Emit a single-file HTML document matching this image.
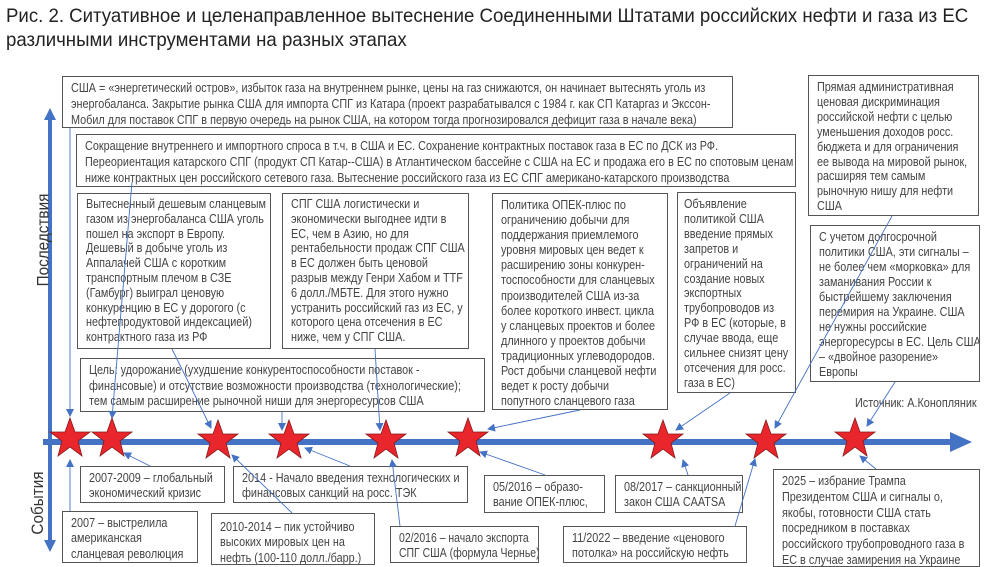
<!DOCTYPE html>
<html><head><meta charset="utf-8"><style>
body{margin:0;width:986px;height:567px;background:#fff;position:relative;overflow:hidden;font-family:"Liberation Sans",sans-serif;}
.t{position:absolute;left:6px;top:4px;font-size:19.5px;line-height:24px;color:#222;white-space:nowrap;transform:scaleX(0.955);transform-origin:left top}
.b{position:absolute;border:1.3px solid #555;background:#fff;box-sizing:border-box;font-size:12.6px;line-height:15.3px;color:#444;padding:4px 0 0 8px;white-space:nowrap;overflow:hidden}
.b>span{display:inline-block;transform:scaleX(0.86);transform-origin:left top}
.lab{position:absolute;font-size:17px;color:#333;transform:rotate(-90deg) scaleX(0.9);transform-origin:center;white-space:nowrap}
svg{position:absolute;left:0;top:0}
</style></head><body>
<div class="t">Рис. 2. Ситуативное и целенаправленное вытеснение Соединенными Штатами российских нефти и газа из ЕС<br>различными инструментами на разных этапах</div>
<svg width="986" height="567">
<defs><marker id="a" markerWidth="8" markerHeight="8" refX="7" refY="4" orient="auto" markerUnits="userSpaceOnUse"><path d="M0,0 L8,4 L0,8 z" fill="#4472c4"/></marker></defs>
<line x1="50" y1="118" x2="50" y2="542" stroke="#4472c4" stroke-width="4"/>
<path d="M44,120 L50,108 L56,120 z M44,540 L50,552 L56,540 z" fill="#4472c4"/>
<line x1="43" y1="442" x2="955" y2="442" stroke="#4472c4" stroke-width="6"/>
<path d="M950,432 L972,442 L950,452 z" fill="#4472c4"/>
</svg>
<div class="lab" style="left:-8px;top:230px">Последствия</div>
<div class="lab" style="left:3px;top:493px">События</div>
<div class="b" style="left:62px;top:76px;width:671px;height:52px;line-height:16px;padding-top:3px"><span>США = «энергетический остров», избыток газа на внутреннем рынке, цены на газ снижаются, он начинает вытеснять уголь из<br>энергобаланса. Закрытие рынка США для импорта СПГ из Катара (проект разрабатывался с 1984 г. как СП Катаргаз и Экссон-<br>Мобил для поставок СПГ в первую очередь на рынок США, на котором тогда прогнозировался дефицит газа в начале века)</span></div>
<div class="b" style="left:76px;top:134px;width:720px;height:53px;line-height:16px;padding-top:3px"><span>Сокращение внутреннего и импортного спроса в т.ч. в США и ЕС.  Сохранение контрактных поставок газа в ЕС по ДСК из РФ.<br>Переориентация катарского СПГ (продукт СП Катар--США) в Атлантическом бассейне с США на ЕС и продажа его в ЕС по спотовым ценам<br>ниже контрактных цен российского сетевого газа. Вытеснение российского газа из ЕС СПГ американо-катарского производства</span></div>
<div class="b" style="left:77px;top:193px;width:194px;height:156px;line-height:14.8px;padding-top:3px"><span>Вытесненный дешевым сланцевым<br>газом из энергобаланса США уголь<br>пошел на экспорт в Европу.<br>Дешевый в добыче уголь из<br>Аппалачей США с коротким<br>транспортным плечом  в СЗЕ<br>(Гамбург) выиграл ценовую<br>конкуренцию в ЕС у дорогого (с<br>нефтепродуктовой индексацией)<br>контрактного газа из РФ</span></div>
<div class="b" style="left:282px;top:193px;width:187px;height:156px;line-height:14.8px;padding-top:3px"><span>СПГ США логистически и<br>экономически выгоднее идти в<br>ЕС, чем в Азию, но для<br>рентабельности продаж СПГ США<br>в ЕС должен быть ценовой<br>разрыв между Генри Хабом и TTF<br>6 долл./МБТЕ. Для этого нужно<br>устранить российский газ из ЕС, у<br>которого цена отсечения в ЕС<br>ниже, чем у СПГ США.</span></div>
<div class="b" style="left:492px;top:193px;width:176px;height:217px;line-height:15.1px"><span>Политика ОПЕК-плюс по<br>ограничению добычи для<br>поддержания приемлемого<br>уровня мировых цен ведет к<br>расширению зоны конкурен-<br>тоспособности для сланцевых<br>производителей США из-за<br>более короткого инвест. цикла<br>у сланцевых проектов и более<br>длинного у проектов добычи<br>традиционных углеводородов.<br>Рост добычи сланцевой нефти<br>ведет к росту добычи<br>попутного сланцевого газа</span></div>
<div class="b" style="left:677px;top:192px;width:119px;height:201px;padding-left:6px;line-height:14.9px"><span>Объявление<br>политикой США<br>введение прямых<br>запретов и<br>ограничений на<br>создание новых<br>экспортных<br>трубопроводов из<br>РФ в ЕС (которые, в<br>случае ввода, еще<br>сильнее снизят цену<br>отсечения для росс.<br>газа в ЕС)</span></div>
<div class="b" style="left:808px;top:75px;width:171px;height:141px;line-height:14.9px"><span>Прямая административная<br>ценовая  дискриминация<br>российской нефти с целью<br>уменьшения доходов росс.<br>бюджета и для  ограничения<br>ее вывода на мировой рынок,<br>расширяя тем самым<br>рыночную нишу для нефти<br>США</span></div>
<div class="b" style="left:810px;top:225px;width:170px;height:157px;line-height:15px"><span>С учетом долгосрочной<br>политики США, эти сигналы –<br>не более чем «морковка» для<br>заманивания России к<br>быстрейшему заключения<br>перемирия на Украине. США<br>не нужны российские<br>энергоресурсы в ЕС. Цель США<br>– «двойное разорение»<br>Европы</span></div>
<div class="b" style="left:80px;top:358px;width:405px;height:54px;line-height:15.5px"><span>Цель: удорожание (ухудшение конкурентоспособности поставок -<br>финансовые) и отсутствие возможности производства (технологические);<br>тем самым расширение рыночной ниши для энергоресурсов США</span></div>
<div style="position:absolute;left:855px;top:396px;font-size:12.6px;color:#444;white-space:nowrap;transform:scaleX(0.86);transform-origin:left top">Источник: А.Конопляник</div>
<div class="b" style="left:80px;top:466px;width:145px;height:37px"><span>2007-2009 – глобальный<br>экономический кризис</span></div>
<div class="b" style="left:233px;top:466px;width:235px;height:37px"><span>2014 - Начало введения технологических и<br>финансовых санкций на росс. ТЭК</span></div>
<div class="b" style="left:62px;top:511px;width:136px;height:52px"><span>2007 – выстрелила<br>американская<br>сланцевая революция</span></div>
<div class="b" style="left:211px;top:513px;width:164px;height:52px;padding-top:6px"><span>2010-2014 – пик устойчиво<br>высоких мировых цен на<br>нефть (100-110 долл./барр.)</span></div>
<div class="b" style="left:390px;top:526px;width:149px;height:37px"><span style="transform:scaleX(0.83)">02/2016 – начало экспорта<br>СПГ США (формула Чернье)</span></div>
<div class="b" style="left:484px;top:475px;width:121px;height:38px"><span>05/2016 – образо-<br>вание  ОПЕК-плюс,</span></div>
<div class="b" style="left:615px;top:475px;width:128px;height:38px"><span>08/2017 – санкционный<br>закон США CAATSA</span></div>
<div class="b" style="left:563px;top:526px;width:184px;height:37px"><span>11/2022 – введение «ценового<br>потолка» на российскую нефть</span></div>
<div class="b" style="left:773px;top:469px;width:207px;height:98px;line-height:15.8px"><span>2025 – избрание Трампа<br>Президентом США и сигналы о,<br>якобы, готовности США стать<br>посредником в поставках<br>российского трубопроводного газа в<br>ЕС в случае замирения на Украине</span></div>
<svg width="986" height="567">
<g stroke="#4472c4" stroke-width="0.9" marker-end="url(#a)" fill="none">
<line x1="70" y1="128" x2="70" y2="416"/>
<line x1="132" y1="182" x2="112" y2="418"/>
<line x1="172" y1="349" x2="211" y2="428"/>
<line x1="282" y1="412" x2="282" y2="430"/>
<line x1="375" y1="349" x2="380" y2="430"/>
<line x1="580" y1="410" x2="488" y2="429"/>
<line x1="730" y1="393" x2="676" y2="430"/>
<line x1="892" y1="216" x2="775" y2="428"/>
<line x1="895" y1="382" x2="867" y2="426"/>
<line x1="70" y1="511" x2="70" y2="460"/>
<line x1="150" y1="466" x2="124" y2="453"/>
<line x1="292" y1="513" x2="232" y2="455"/>
<line x1="350" y1="466" x2="305" y2="448"/>
<line x1="400" y1="526" x2="392" y2="460"/>
<line x1="545" y1="475" x2="480" y2="452"/>
<line x1="688" y1="475" x2="683" y2="460"/>
<line x1="735" y1="526" x2="755" y2="459"/>
<line x1="876" y1="469" x2="860" y2="456"/>
</g>
<g fill="#e8262b" stroke="#8b1a1a" stroke-width="0.8">
<polygon points="0,-21 5,-7 20,-7 8,2 12,17 0,8 -12,17 -8,2 -20,-7 -5,-7" transform="translate(70,439)"/>
<polygon points="0,-21 5,-7 20,-7 8,2 12,17 0,8 -12,17 -8,2 -20,-7 -5,-7" transform="translate(112,439)"/>
<polygon points="0,-21 5,-7 20,-7 8,2 12,17 0,8 -12,17 -8,2 -20,-7 -5,-7" transform="translate(218,441)"/>
<polygon points="0,-21 5,-7 20,-7 8,2 12,17 0,8 -12,17 -8,2 -20,-7 -5,-7" transform="translate(289,441)"/>
<polygon points="0,-21 5,-7 20,-7 8,2 12,17 0,8 -12,17 -8,2 -20,-7 -5,-7" transform="translate(386,441)"/>
<polygon points="0,-21 5,-7 20,-7 8,2 12,17 0,8 -12,17 -8,2 -20,-7 -5,-7" transform="translate(468,439)"/>
<polygon points="0,-21 5,-7 20,-7 8,2 12,17 0,8 -12,17 -8,2 -20,-7 -5,-7" transform="translate(663,441)"/>
<polygon points="0,-21 5,-7 20,-7 8,2 12,17 0,8 -12,17 -8,2 -20,-7 -5,-7" transform="translate(766,441)"/>
<polygon points="0,-21 5,-7 20,-7 8,2 12,17 0,8 -12,17 -8,2 -20,-7 -5,-7" transform="translate(855,439)"/>
</g>
</svg>
</body></html>
